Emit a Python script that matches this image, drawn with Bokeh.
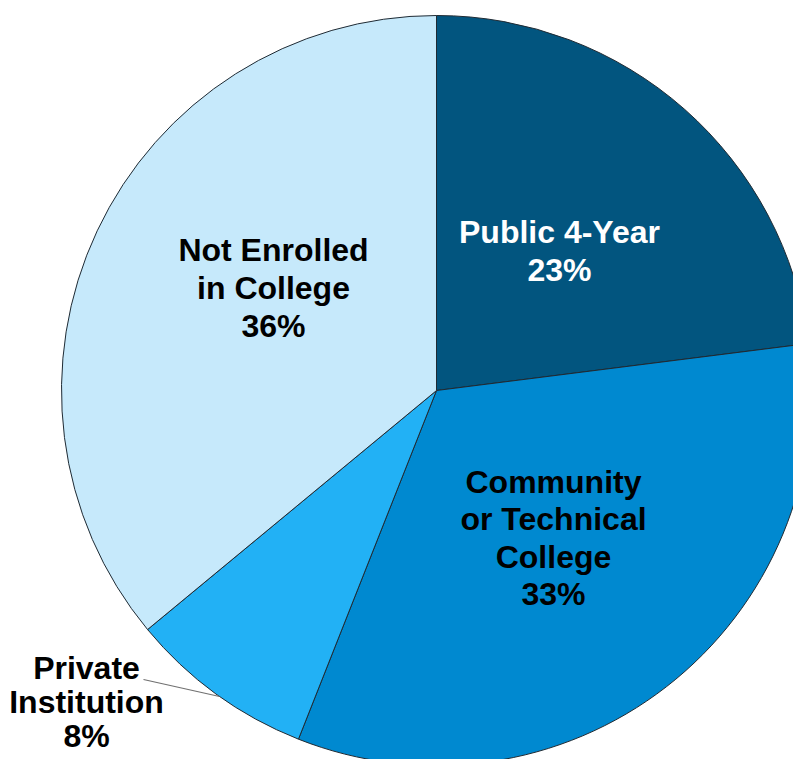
import math
from bokeh.plotting import figure
from bokeh.models import Range1d, ColumnDataSource
from bokeh.core.properties import value
from bokeh.embed import file_html
from bokeh.resources import INLINE

categories = ["Public 4-Year", "Community\nor Technical\nCollege", "Private\nInstitution", "Not Enrolled\nin College"]
percents = [23, 33, 8, 36]
colors = ["#02557F", "#0089D0", "#22B1F5", "#C6E9FB"]

# layout: label anchor (center of first line) in page pixels, and line spacing
label_pos = [(559, 231), (553, 481), (86, 667), (273, 249)]
line_gaps = [38, 37.5, 34, 38]

W, H = 801, 767
p = figure(width=W - 8, height=H - 8, output_backend="svg", toolbar_location=None,
           x_range=Range1d(0, W - 8), y_range=Range1d(8, H), min_border=0)
p.axis.visible = False
p.grid.visible = False
p.outline_line_color = None
p.background_fill_color = "white"

def py(y):
    return H - y

cx, cy, r = 436, py(390), 375
total = sum(percents)
starts, ends = [], []
acc = 0
for v in percents:
    starts.append(math.pi / 2 - 2 * math.pi * acc / total)
    acc += v
    ends.append(math.pi / 2 - 2 * math.pi * acc / total)

src = ColumnDataSource(dict(start=starts, end=ends, color=colors))
p.wedge(x=cx, y=cy, radius=r, start_angle="start", end_angle="end", direction="clock",
        fill_color="color", line_color="#1f2a33", line_width=1, source=src)

# leader line for Private Institution
p.line(x=[143, 219], y=[py(679), py(696)], line_color="#707070", line_width=1.2)

xs, ys, txt, tcol = [], [], [], []
for i, (cat, v) in enumerate(zip(categories, percents)):
    lines = cat.split("\n") + [f"{v}%"]
    lx, ly = label_pos[i]
    for j, ln in enumerate(lines):
        xs.append(lx)
        ys.append(py(ly + j * line_gaps[i]))
        txt.append(ln)
        tcol.append("white" if i == 0 else "black")

p.text(x=xs, y=ys, text=txt, text_color=tcol, text_align="center", text_baseline="middle",
       text_font=value("Liberation Sans"), text_font_style="bold", text_font_size="32px")

open("out.html", "w").write(file_html(p, INLINE))
